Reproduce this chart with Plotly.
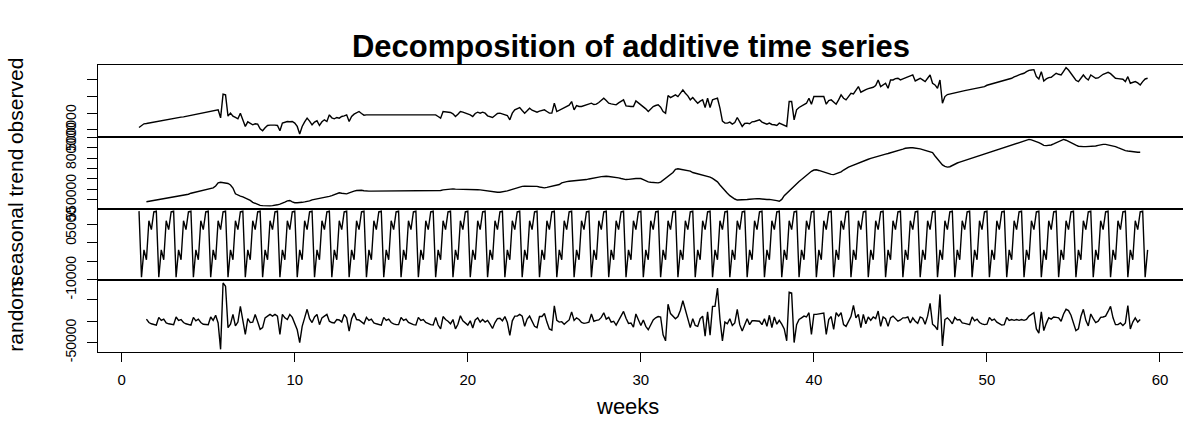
import numpy as np
import plotly.graph_objects as go
from plotly.subplots import make_subplots

# ---------------- data (values in thousands) ----------------
start_week = 1
freq = 7

observed_k = [
    514, 528, 536, 538, 541, 544, 546,
    549, 551, 554, 557, 559, 562, 565,
    568, 570, 573, 576, 578, 581, 584,
    586, 589, 592, 594, 597, 600, 602,
    605, 609, 612, 616, 620, 572, 714,
    710, 582, 600, 582, 574, 566, 600,
    560, 520, 548, 540, 530, 536, 534,
    506, 494, 512, 526, 528, 530, 528,
    526, 494, 540, 546, 550, 548, 550,
    540, 520, 474, 520, 548, 570, 552,
    530, 546, 554, 526, 548, 560, 550,
    590, 572, 566, 574, 570, 580, 584,
    590, 550, 580, 594, 604, 610, 598,
    588, 590, 590, 590, 590, 590, 590,
    590, 590, 590, 590, 590, 590, 590,
    590, 590, 590, 590, 590, 590, 590,
    590, 590, 590, 590, 590, 590, 590,
    590, 590, 580, 570, 610, 608, 606,
    604, 596, 580, 594, 610, 606, 602,
    598, 590, 580, 598, 606, 600, 606,
    600, 584, 580, 574, 586, 598, 600,
    596, 590, 586, 560, 600, 620, 626,
    634, 616, 600, 614, 630, 618, 610,
    606, 612, 616, 620, 610, 600, 600,
    660, 610, 618, 626, 630, 640, 648,
    670, 620, 646, 640, 640, 644, 650,
    656, 660, 652, 654, 664, 676, 690,
    676, 660, 656, 654, 650, 662, 672,
    680, 644, 640, 640, 640, 674, 662,
    650, 640, 626, 610, 628, 640, 646,
    650, 636, 610, 600, 706, 694, 700,
    710, 700, 720, 740, 720, 704, 680,
    694, 676, 660, 672, 680, 634, 690,
    634, 680, 686, 690, 630, 552, 540,
    540, 546, 534, 544, 574, 548, 520,
    538, 540, 536, 548, 550, 556, 560,
    546, 540, 534, 540, 532, 530, 526,
    540, 534, 528, 520, 670, 670, 560,
    620, 634, 642, 650, 660, 690, 654,
    700, 700, 700, 700, 700, 654, 676,
    680, 668, 654, 680, 710, 690, 680,
    700, 720, 716, 740, 760, 726, 736,
    742, 748, 750, 756, 766, 800, 760,
    770, 780, 750, 800, 800, 808, 810,
    800, 806, 812, 814, 820, 830, 794,
    800, 810, 800, 790, 810, 830, 780,
    770, 750, 800, 660, 700, 712, 716,
    720, 724, 727, 730, 733, 736, 739,
    742, 745, 748, 751, 754, 757, 760,
    768, 772, 776, 781, 785, 789, 793,
    797, 801, 806, 810, 818, 826, 830,
    836, 840, 850, 858, 860, 862, 820,
    806, 850, 794, 806, 814, 816, 828,
    840, 834, 830, 852, 874, 860, 840,
    820, 798, 790, 812, 830, 812, 800,
    830, 822, 810, 812, 826, 834, 840,
    846, 838, 822, 810, 808, 806, 804,
    790, 820, 780, 786, 790, 782, 770,
    790, 806, 810,
]

trend_k = [
    539, 541, 543, 545,
    547, 549, 551, 553, 555, 557, 559,
    562, 564, 566, 568, 570, 572, 575,
    580, 583, 586, 589, 592, 595, 598,
    602, 604, 606, 615, 630, 633, 631,
    628, 627, 620, 605, 577, 570, 566,
    562, 557, 552, 545, 536, 530, 524,
    521, 520, 519, 519, 519, 520, 521,
    524, 527, 531, 537, 543, 545, 538,
    534, 534, 534, 536, 538, 540, 543,
    548, 550, 552, 554, 556, 559, 562,
    565, 568, 572, 577, 582, 580, 578,
    577, 582, 587, 590, 593, 595, 594,
    592, 590, 590, 590, 590, 590, 590,
    590, 590, 590, 590, 590, 590, 590,
    590, 590, 590, 590, 590, 590, 590,
    590, 590, 590, 590, 590, 590, 590,
    590, 590, 591, 593, 596, 598, 599,
    601, 601, 600, 600, 599, 599, 598,
    598, 598, 598, 597, 597, 596, 594,
    593, 591, 589, 587, 586, 585, 585,
    586, 588, 591, 595, 599, 602, 606,
    610, 613, 614, 614, 614, 614, 614,
    613, 610, 607, 606, 608, 611, 613,
    615, 617, 622, 630, 634, 636, 638,
    639, 640, 640, 641, 641, 643, 646,
    649, 652, 654, 656, 658, 660, 662,
    662, 661, 660, 658, 656, 654, 651,
    648, 646, 647, 649, 651, 651, 651,
    651, 646, 640, 635, 633, 631, 630,
    630, 634, 644, 652, 662, 670, 680,
    695, 698, 696, 694, 692, 690, 687,
    680, 677, 674, 670, 666, 663, 661,
    658, 652, 644, 635, 620, 605, 595,
    580, 568, 558, 552, 547, 547, 548,
    549, 550, 551, 553, 554, 554, 553,
    551, 550, 550, 550, 549, 547, 544,
    541, 550, 568, 580, 594, 606, 618,
    628, 637, 646, 656, 666, 678, 686,
    692, 693, 690, 686, 682, 678, 674,
    671, 670, 674, 679, 683, 692, 700,
    706, 711, 716, 722, 727, 731, 736,
    740, 744, 748, 752, 756, 760, 764,
    767, 769, 772, 775, 778, 781, 785,
    789, 793, 797, 800, 800, 800, 799,
    797, 794, 791, 787, 784, 780, 776,
    760, 745, 730, 717, 710, 706, 708,
    715, 720, 726, 730, 734, 738, 742,
    746, 750, 754, 758, 762, 766, 770,
    774, 778, 782, 785, 789, 793, 797,
    800, 803, 807, 811, 815, 819, 823,
    828, 832, 837, 840, 838, 834, 830,
    824, 818, 811, 810, 811, 813, 818,
    824, 830, 836, 840, 836, 829, 825,
    818, 812, 807, 805, 805, 805, 805,
    805, 806, 808, 811, 814, 816, 816,
    814, 812, 809, 805, 800, 795, 790,
    786, 784, 782, 780, 779, 778, 778,
]

seasonal_figure_k = [8.6, -9.3, -1.9, -4.6, 6.0, 3.6, 8.4]

random_k = [
    5, -3, -6, -8,
    -9, 9, 2, 5, -4, -6, -7,
    -8, 10, 2, 4, -3, -6, -8,
    -9, 9, 1, 5, -3, -7, -8,
    -8, 10, 2, 14, -4, -66, 90,
    82, -15, -7, 16, -11, -2, 35,
    4, -31, 6, -3, -2, 16, -1,
    -19, -15, 8, 12, 16, 12, 16,
    12, -31, 16, 8, 4, 16, 9,
    -4, -20, -50, -12, 8, 28, 6,
    -3, 10, 16, -8, 8, 12, 16,
    0, -3, -4, 4, 3, -2, 16,
    8, -23, 6, 19, 4, 3, -2,
    -6, 9, 2, 5, -4, -6, -8,
    -9, 9, 2, 5, -3, -6, -8,
    -8, 9, 2, 5, -3, -6, -8,
    -9, 9, 2, 4, -3, -6, -8,
    -9, 9, -9, -18, 11, 4, 0,
    -6, 4, -18, -7, 13, 1, -5,
    -9, 1, -16, 3, 8, -2, 4,
    -2, 2, -7, -17, -3, 6, 7,
    1, 11, -3, -33, 1, 12, 12,
    16, 12, -12, 5, 12, -2, -12,
    -15, 11, 11, 18, -2, -18, -21,
    36, 2, -2, -1, -7, -2, 3,
    22, 2, 8, 4, -3, -5, -4,
    -2, 17, 0, 2, 3, 9, 20,
    5, 9, -2, 0, -9, 2, 13,
    23, 7, -5, -4, -14, 17, 3,
    -10, 3, -12, -20, -8, 3, 8,
    11, 10, -32, -46, 40, 18, 12,
    6, 11, 26, 48, 25, 8, -15,
    6, -10, -12, 6, 12, -35, 22,
    -33, 35, 35, 78, 5, -46, -2,
    -6, 6, -10, -4, 28, -8, -23,
    -7, 6, -8, 1, 1, 1, 0,
    -8, 6, -12, 14, -15, 10, -7,
    2, -7, -18, -46, 68, 66, -50,
    -8, 4, 8, 12, 10, 20, -31,
    16, 16, 17, 18, 19, -31, 4,
    11, -19, 20, 12, 20, -8, -12,
    -2, 11, 37, 8, 16, -15, 16,
    -6, 10, 2, 10, 6, 24, -12,
    10, 6, -12, 8, 12, 6, 0,
    3, 8, 8, 10, -4, 8, 0,
    -5, 10, 7, -7, 12, 42, -7,
    -12, -20, 63, -58, 4, 8, 2,
    -6, 9, 3, 4, -4, -5, -7,
    -8, 10, 1, 5, -3, -6, -8,
    -7, 9, 2, 5, -2, -6, -9,
    -8, 9, 2, 4, 2, 4, 2,
    4, 2, 4, 12, 16, 20, -18,
    -28, 22, -22, -5, 8, 5, 10,
    9, 8, 0, 17, 28, 25, 14,
    -4, -22, -18, 11, 28, 2, -11,
    17, 6, -3, 0, 9, 10, 12,
    23, 35, 8, -8, -8, -4, -10,
    -4, 37, -18, -2, 8, -2, 4,
]

x_tick_vals = [0, 10, 20, 30, 40, 50, 60]
x_tick_text = ["0", "10", "20", "30", "40", "50", "60"]

obs_tick_vals = [500000, 600000, 700000, 800000]
obs_tick_text = ["500000", "", "", ""]
trend_tick_vals = [550000, 600000, 650000, 700000, 750000, 800000, 850000]
trend_tick_text = ["550000", "", "", "", "", "800000", ""]
seas_tick_vals = [-10000, -5000, 0, 5000]
seas_tick_text = ["-10000", "", "0", "5000"]
rand_tick_vals = [-50000, 0, 50000]
rand_tick_text = ["-50000", "", ""]

panel_titles = ["observed", "trend", "seasonal", "random"]
main_title = "Decomposition of additive time series"
x_title = "weeks"

# ---------------- derived series ----------------
n = len(observed_k)
half = freq // 2
t_all = start_week + np.arange(n) / freq
t_mid = t_all[half:n - half]
observed = np.array(observed_k, dtype=float) * 1000
trend = np.array(trend_k, dtype=float) * 1000
seasonal = np.resize(np.array(seasonal_figure_k) * 1000, n)
random_c = np.array(random_k, dtype=float) * 1000

series = [(t_all, observed), (t_mid[:len(trend)], trend),
          (t_all, seasonal), (t_mid[:len(random_c)], random_c)]
ticks = [(obs_tick_vals, obs_tick_text), (trend_tick_vals, trend_tick_text),
         (seas_tick_vals, seas_tick_text), (rand_tick_vals, rand_tick_text)]


def r_range(v, extra_low=0.0):
    lo, hi = float(np.min(v)), float(np.max(v))
    pad = 0.04 * (hi - lo)
    return [lo - pad - extra_low, hi + pad]


FONT = "Liberation Sans, Arial, Helvetica, sans-serif"

fig = make_subplots(rows=4, cols=1, shared_xaxes=True, vertical_spacing=0)

for i, (xs, ys) in enumerate(series):
    fig.add_trace(go.Scatter(x=xs, y=ys, mode="lines",
                             line=dict(color="black", width=1.4),
                             hoverinfo="skip", showlegend=False),
                  row=i + 1, col=1)
    tv, tt = ticks[i]
    extra = 120 if i == 2 else 0
    fig.update_yaxes(row=i + 1, col=1,
                     range=r_range(ys, extra),
                     tickvals=tv, ticktext=tt, tickangle=-90,
                     ticks="outside", ticklen=10, tickwidth=1.1, tickcolor="black",
                     tickfont=dict(family=FONT, size=14, color="black"),
                     ticklabelstandoff=5,
                     showline=True, linecolor="black", linewidth=1.2, mirror=False,
                     showgrid=False, zeroline=False,
                     title=dict(text=panel_titles[i], standoff=33,
                                font=dict(family=FONT, size=21, color="black")))
    fig.update_xaxes(row=i + 1, col=1,
                     range=[-1.37, 61.33],
                     showline=True, linecolor="black", linewidth=1.1, mirror=True,
                     showgrid=False, zeroline=False)

fig.update_xaxes(row=4, col=1,
                 tickvals=x_tick_vals, ticktext=x_tick_text, showticklabels=True,
                 ticks="outside", ticklen=9, tickwidth=1.1, tickcolor="black",
                 tickfont=dict(family=FONT, size=15, color="black"),
                 ticklabelstandoff=5)

fig.update_layout(
    width=1183, height=421,
    margin=dict(l=98, r=0, t=65, b=69),
    paper_bgcolor="white", plot_bgcolor="white",
    showlegend=False,
    title=dict(text=main_title,
               x=631 / 1183, xanchor="center", xref="container",
               y=1 - 46 / 421, yanchor="middle", yref="container",
               font=dict(family=FONT, size=31, color="black", weight="bold")),
    annotations=[dict(text=x_title, xref="paper", yref="paper",
                      x=(627 - 98) / 1085, y=-(406 - 352) / 287,
                      xanchor="center", yanchor="middle", showarrow=False,
                      font=dict(family=FONT, size=22, color="black"))],
)

fig.write_html("out.html")
